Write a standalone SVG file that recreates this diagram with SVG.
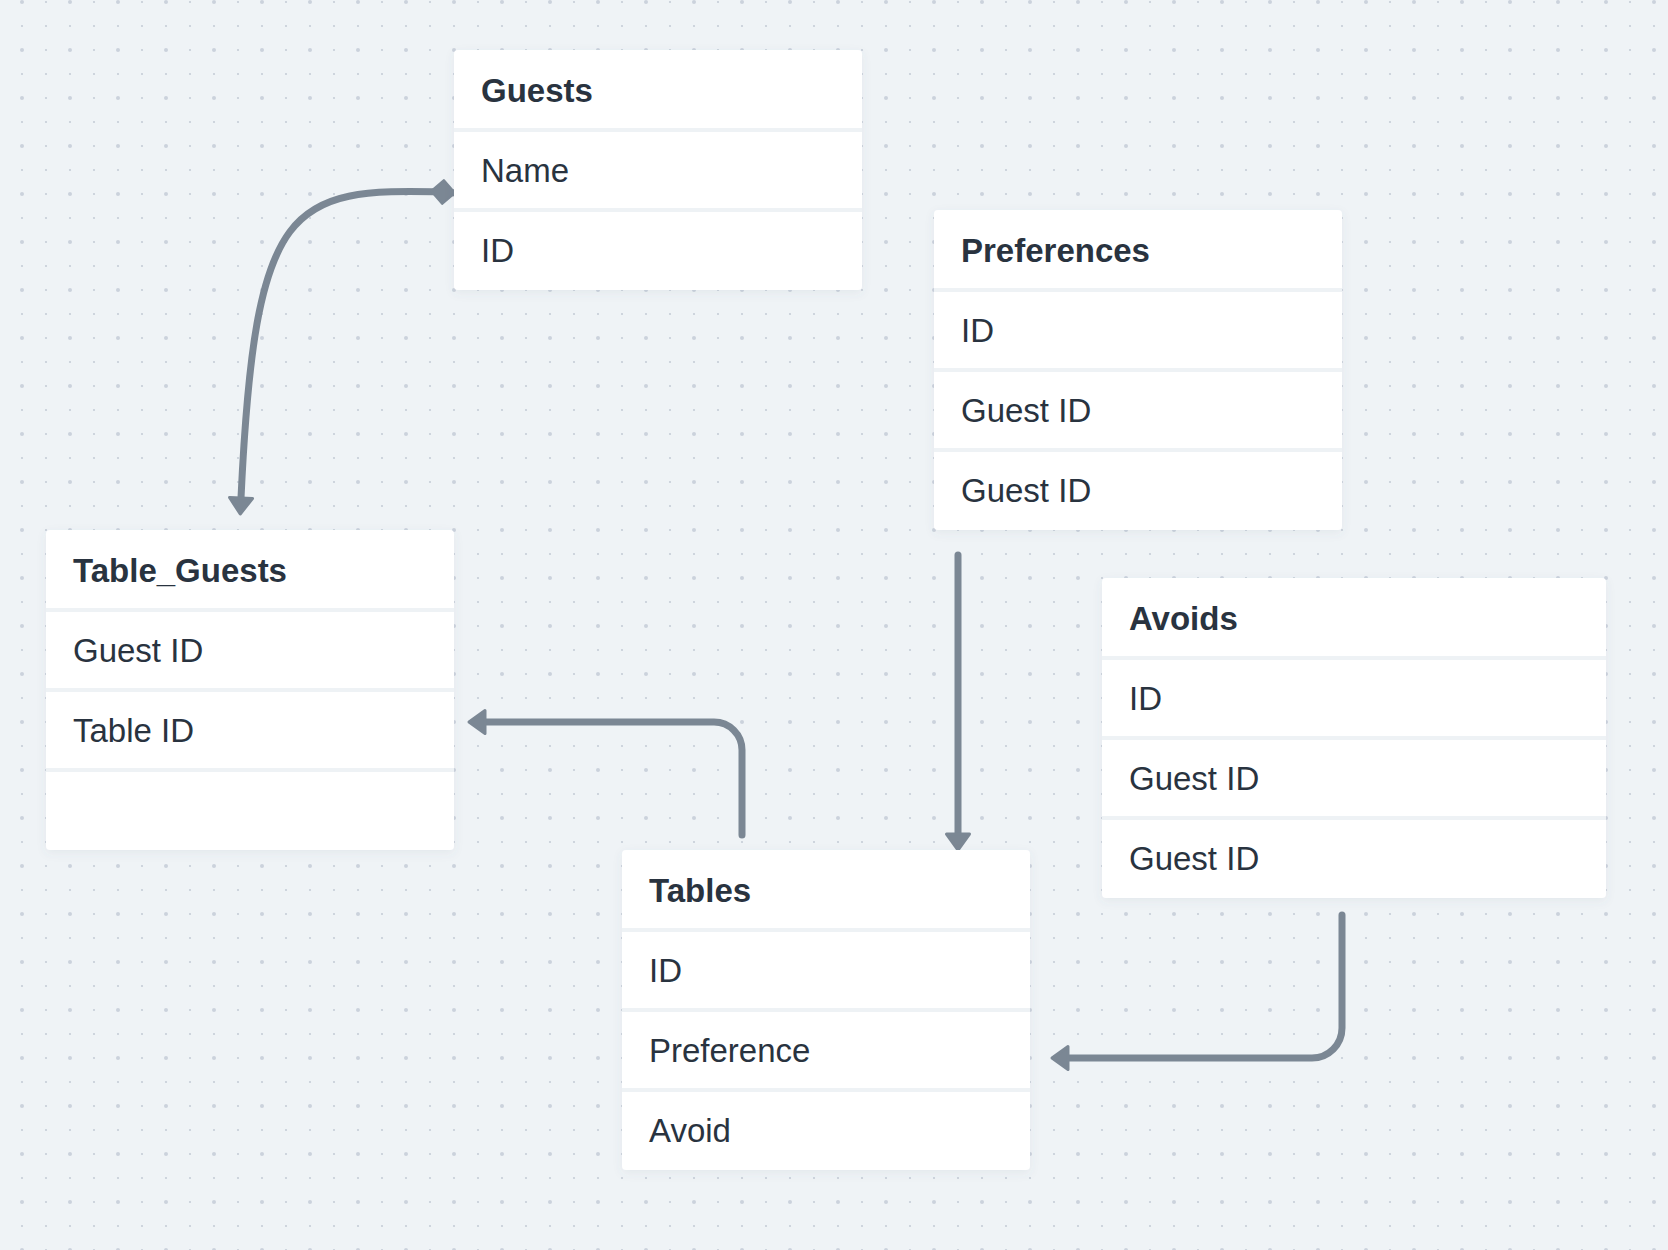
<svg xmlns="http://www.w3.org/2000/svg" width="1668" height="1250" viewBox="0 0 1668 1250">
  <style>
    .card { fill: #ffffff; filter: url(#shadow); }
    .sep { fill: #eef2f5; }
    .hd { font-family: "Liberation Sans", Arial, sans-serif; font-weight: bold; font-size: 33px; fill: #29333f; }
    .tx { font-family: "Liberation Sans", Arial, sans-serif; font-size: 33px; fill: #29333f; }
    .conn { fill: none; stroke: #7b8794; stroke-width: 7; stroke-linecap: round; stroke-linejoin: round; }
  </style>
  <defs>
    <pattern id="dotS" x="10" y="-10" width="24" height="24" patternUnits="userSpaceOnUse">
      <circle cx="12" cy="12" r="1.1" fill="#c6cdd7"/>
    </pattern>
    <pattern id="dotL" x="-2" y="-22" width="48" height="48" patternUnits="userSpaceOnUse">
      <circle cx="24" cy="24" r="2" fill="#cbd2dc"/>
    </pattern>
    <filter id="shadow" x="-10%" y="-10%" width="120%" height="125%">
      <feDropShadow dx="0" dy="3" stdDeviation="5" flood-color="#5a6a7a" flood-opacity="0.08"/>
    </filter>
    <marker id="arrow" markerUnits="userSpaceOnUse" viewBox="-4 -16 26 32" refX="0" refY="0" markerWidth="26" markerHeight="32" orient="auto">
      <path d="M 16 0 L 0 -11.5 L 0 11.5 Z" fill="#7b8794" stroke="#7b8794" stroke-width="3" stroke-linejoin="round"/>
    </marker>
    <marker id="diamond" markerUnits="userSpaceOnUse" viewBox="-2 -16 30 32" refX="0" refY="0" markerWidth="30" markerHeight="32" orient="auto">
      <path d="M 1 0 L 13 -12 L 25 0 L 13 12 Z" fill="#7b8794" stroke="#7b8794" stroke-width="2" stroke-linejoin="round"/>
    </marker>
  </defs>

  <rect x="0" y="0" width="1668" height="1250" fill="#eff3f6"/>
  <rect x="0" y="0" width="1668" height="1250" fill="url(#dotS)"/>
  <rect x="0" y="0" width="1668" height="1250" fill="url(#dotL)"/>

  <g id="connectors">
    <path class="conn" marker-start="url(#diamond)" marker-end="url(#arrow)" d="M 456 193 L 443 192 C 290 188, 255 200, 241 498"/>
    <path class="conn" marker-end="url(#arrow)" d="M 742 835 V 750 A 28 28 0 0 0 714 722 H 485"/>
    <path class="conn" marker-end="url(#arrow)" d="M 958 555 V 834"/>
    <path class="conn" marker-end="url(#arrow)" d="M 1342 915 V 1028 A 30 30 0 0 1 1312 1058 H 1068"/>
  </g>

  <g id="guests">
    <rect class="card" x="454" y="50" width="408" height="240" rx="4"/>
    <rect class="sep" x="454" y="128" width="408" height="4"/>
    <rect class="sep" x="454" y="208" width="408" height="4"/>
    <text class="hd" x="481" y="102">Guests</text>
    <text class="tx" x="481" y="182">Name</text>
    <text class="tx" x="481" y="262">ID</text>
  </g>

  <g id="preferences">
    <rect class="card" x="934" y="210" width="408" height="320" rx="4"/>
    <rect class="sep" x="934" y="288" width="408" height="4"/>
    <rect class="sep" x="934" y="368" width="408" height="4"/>
    <rect class="sep" x="934" y="448" width="408" height="4"/>
    <text class="hd" x="961" y="262">Preferences</text>
    <text class="tx" x="961" y="342">ID</text>
    <text class="tx" x="961" y="422">Guest ID</text>
    <text class="tx" x="961" y="502">Guest ID</text>
  </g>

  <g id="table_guests">
    <rect class="card" x="46" y="530" width="408" height="320" rx="4"/>
    <rect class="sep" x="46" y="608" width="408" height="4"/>
    <rect class="sep" x="46" y="688" width="408" height="4"/>
    <rect class="sep" x="46" y="768" width="408" height="4"/>
    <text class="hd" x="73" y="582">Table_Guests</text>
    <text class="tx" x="73" y="662">Guest ID</text>
    <text class="tx" x="73" y="742">Table ID</text>
  </g>

  <g id="avoids">
    <rect class="card" x="1102" y="578" width="504" height="320" rx="4"/>
    <rect class="sep" x="1102" y="656" width="504" height="4"/>
    <rect class="sep" x="1102" y="736" width="504" height="4"/>
    <rect class="sep" x="1102" y="816" width="504" height="4"/>
    <text class="hd" x="1129" y="630">Avoids</text>
    <text class="tx" x="1129" y="710">ID</text>
    <text class="tx" x="1129" y="790">Guest ID</text>
    <text class="tx" x="1129" y="870">Guest ID</text>
  </g>

  <g id="tables">
    <rect class="card" x="622" y="850" width="408" height="320" rx="4"/>
    <rect class="sep" x="622" y="928" width="408" height="4"/>
    <rect class="sep" x="622" y="1008" width="408" height="4"/>
    <rect class="sep" x="622" y="1088" width="408" height="4"/>
    <text class="hd" x="649" y="902">Tables</text>
    <text class="tx" x="649" y="982">ID</text>
    <text class="tx" x="649" y="1062">Preference</text>
    <text class="tx" x="649" y="1142">Avoid</text>
  </g>
</svg>
